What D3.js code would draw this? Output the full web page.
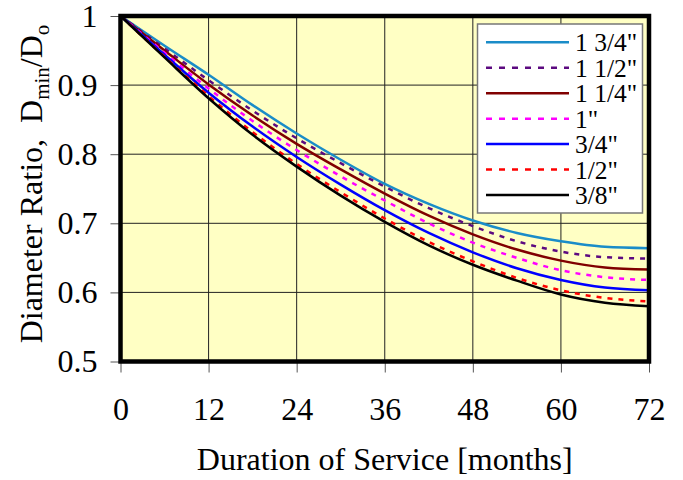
<!DOCTYPE html>
<html lang="en">
<head>
    <meta charset="UTF-8">
    <title>Diameter Ratio vs Duration of Service</title>
    <script src="https://cdnjs.cloudflare.com/ajax/libs/d3/7.8.5/d3.min.js"></script>
    <style>
        body, html {
            margin: 0;
            padding: 0;
            width: 100%;
            height: 100%;
            overflow: hidden;
            background: #fff;
            font-family: "Liberation Serif", "Times New Roman", serif;
        }
    </style>
</head>
<body>
    <div id="chart"></div>

    <script>
        // months of service
        const months = [0, 6, 12, 18, 24, 30, 36, 42, 48, 54, 60, 66, 72];
        const xTicks = [0, 12, 24, 36, 48, 60, 72];
        const yTicks = [0.5, 0.6, 0.7, 0.8, 0.9, 1];

        const seriesNames = ['1 3/4"', '1 1/2"', '1 1/4"', '1"', '3/4"', '1/2"', '3/8"'];
        const d134 = [1, 0.957, 0.915, 0.871, 0.830, 0.792, 0.757, 0.728, 0.704, 0.686, 0.674, 0.666, 0.664];
        const d112 = [1, 0.953, 0.907, 0.863, 0.823, 0.787, 0.753, 0.722, 0.696, 0.674, 0.659, 0.651, 0.649];
        const d114 = [1, 0.950, 0.901, 0.856, 0.815, 0.778, 0.743, 0.711, 0.684, 0.662, 0.646, 0.636, 0.633];
        const d1   = [1, 0.947, 0.895, 0.848, 0.806, 0.768, 0.733, 0.700, 0.672, 0.650, 0.632, 0.622, 0.618];
        const d34  = [1, 0.944, 0.889, 0.840, 0.796, 0.756, 0.719, 0.686, 0.658, 0.635, 0.618, 0.607, 0.603];
        const d12  = [1, 0.941, 0.884, 0.832, 0.786, 0.745, 0.707, 0.673, 0.645, 0.621, 0.603, 0.592, 0.587];
        const d38  = [1, 0.940, 0.881, 0.828, 0.782, 0.740, 0.702, 0.668, 0.640, 0.617, 0.597, 0.585, 0.580];

        const seriesValues = [d134, d112, d114, d1, d34, d12, d38];
        const colors = ["#1a8cc8", "#5c0a80", "#800000", "#ff00ff", "#0000ff", "#ff0000", "#000000"];
        const dashes = [null, "5,6", null, "5,6", null, "5,6", null];

        const width = 683, height = 480;
        const plotL = 120.5, plotR = 649, plotT = 16, plotB = 361.5;

        const svg = d3.select("#chart").append("svg")
            .attr("width", width)
            .attr("height", height);

        const x = d3.scaleLinear().domain([0, 72]).range([plotL, plotR]);
        const y = d3.scaleLinear().domain([0.5, 1]).range([plotB, plotT]);

        // plot background
        svg.append("rect")
            .attr("x", plotL).attr("y", plotT)
            .attr("width", plotR - plotL).attr("height", plotB - plotT)
            .attr("fill", "#ffffc4");

        // gridlines
        svg.append("g")
            .selectAll("line")
            .data(xTicks.slice(1, -1))
            .join("line")
            .attr("x1", d => x(d)).attr("x2", d => x(d))
            .attr("y1", plotT).attr("y2", plotB)
            .attr("stroke", "#222").attr("stroke-width", 1);
        svg.append("g")
            .selectAll("line")
            .data(yTicks.slice(1, -1))
            .join("line")
            .attr("x1", plotL).attr("x2", plotR)
            .attr("y1", d => y(d)).attr("y2", d => y(d))
            .attr("stroke", "#222").attr("stroke-width", 1);

        // axes
        const xAxis = svg.append("g")
            .attr("transform", `translate(0,${plotB})`)
            .call(d3.axisBottom(x).tickValues(xTicks).tickSize(11).tickSizeOuter(0));
        xAxis.select(".domain").remove();
        xAxis.selectAll("line").attr("stroke", "#555");
        xAxis.selectAll("text")
            .attr("y", 58).attr("dy", null)
            .style("font-family", "Liberation Serif")
            .style("font-size", "32px")
            .attr("fill", "#000");

        const yAxis = svg.append("g")
            .attr("transform", `translate(${plotL},0)`)
            .call(d3.axisLeft(y).tickValues(yTicks).tickFormat(d => d === 1 ? "1" : d3.format(".1f")(d)).tickSize(10).tickSizeOuter(0));
        yAxis.select(".domain").remove();
        yAxis.selectAll("line").attr("stroke", "#555");
        yAxis.selectAll("text")
            .attr("x", -23)
            .style("font-family", "Liberation Serif")
            .style("font-size", "32px")
            .attr("fill", "#000");

        // series lines
        const line = d3.line()
            .x((d, i) => x(months[i]))
            .y(d => y(d))
            .curve(d3.curveMonotoneX);

        seriesValues.forEach((vals, i) => {
            svg.append("path")
                .datum(vals)
                .attr("d", line)
                .attr("fill", "none")
                .attr("stroke", colors[i])
                .attr("stroke-width", 2.5)
                .attr("stroke-dasharray", dashes[i]);
        });

        // plot frame
        svg.append("rect")
            .attr("x", plotL).attr("y", plotT)
            .attr("width", plotR - plotL).attr("height", plotB - plotT)
            .attr("fill", "none")
            .attr("stroke", "#000")
            .attr("stroke-width", 4.5);

        // legend
        const legend = svg.append("g");
        legend.append("rect")
            .attr("x", 477.5).attr("y", 24)
            .attr("width", 165).attr("height", 189)
            .attr("fill", "#fff")
            .attr("stroke", "#777")
            .attr("stroke-width", 1.5);

        const rows = legend.selectAll("g.row")
            .data(seriesNames)
            .join("g")
            .attr("class", "row")
            .attr("transform", (d, i) => `translate(0,${42.3 + i * 25.45})`);
        rows.append("line")
            .attr("x1", 486).attr("x2", 569)
            .attr("stroke", (d, i) => colors[i])
            .attr("stroke-width", 2.5)
            .attr("stroke-dasharray", (d, i) => dashes[i] ? "6,7" : null);
        rows.append("text")
            .attr("x", 575).attr("y", 9)
            .style("font-family", "Liberation Serif")
            .style("font-size", "25.5px")
            .text(d => d);

        // axis titles
        svg.append("text")
            .attr("x", (plotL + plotR) / 2).attr("y", 470)
            .attr("text-anchor", "middle")
            .style("font-size", "32px")
            .text("Duration of Service [months]");

        const yt = svg.append("text")
            .attr("transform", "translate(42,184) rotate(-90)")
            .attr("text-anchor", "middle")
            .style("font-size", "32px");
        yt.append("tspan").text("Diameter Ratio,\u00a0\u00a0D");
        yt.append("tspan").attr("dy", 7).style("font-size", "21px").text("min");
        yt.append("tspan").attr("dy", -7).text("/D");
        yt.append("tspan").attr("dy", 7).style("font-size", "21px").text("o");
    </script>
</body>
</html>
